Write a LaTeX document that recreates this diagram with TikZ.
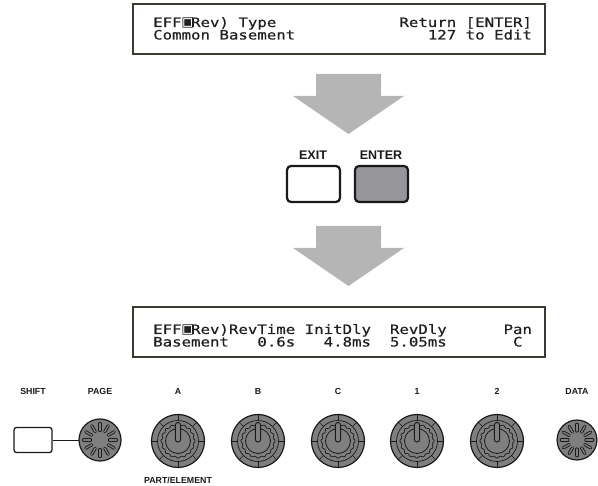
\documentclass[tikz,border=0pt]{standalone}
\usepackage{fontspec}
\setmainfont{Liberation Sans}
\newfontfamily\lcdfont[FakeStretch=1.21,FakeBold=0.6]{DejaVu Sans Mono}
\newfontfamily\lcdsymfont{DejaVu Sans}
\definecolor{ink}{HTML}{1A1A1A}
\definecolor{knobgray}{HTML}{7F7F7F}
\definecolor{arrowgray}{HTML}{B5B5B5}
\definecolor{entergray}{HTML}{95959A}
\definecolor{lcdframe}{HTML}{3A3A30}
\definecolor{lcdink}{HTML}{202020}
\tikzset{
  lcdbox/.style={draw=lcdframe, line width=1.4pt, minimum width=412pt, minimum height=50pt, inner sep=0},
  lcdtxt/.style={anchor=base west, inner sep=0, text=lcdink, font=\lcdfont\fontsize{13}{13}\selectfont},
  lcdsym/.style={anchor=base west, inner sep=0, text=lcdink, font=\lcdsymfont\fontsize{13.5}{13.5}\selectfont},
  btnlabel/.style={inner sep=0, text=ink, font=\bfseries\fontsize{12.5}{12.5}\selectfont},
  klabel/.style={inner sep=0, text=ink, font=\bfseries\fontsize{8.8}{8.8}\selectfont},
  btnbox/.style={draw=ink, line width=2.2pt, rounded corners=4pt, minimum width=53pt, minimum height=36pt, inner sep=0},
  knobspot/.style={circle, inner sep=0, minimum size=#1},
  bigarrow/.style={fill=arrowgray},
  bigknob/.pic={
    \fill[knobgray] (0,0) circle (26.5);
    \draw[ink, line width=0.7pt] (0,0) circle (20.5);
    \foreach \a in {0,45,...,315} \draw[ink, line width=0.7pt] (\a:20.5) -- (\a:26.5);
    \draw[ink, line width=0.7pt] plot[domain=0:360, samples=161, smooth] (\x:{16.3+0.8*cos(16*\x)});
    \draw[ink, line width=0.8pt] (0,0) circle (12.5);
    \filldraw[fill=knobgray, draw=ink, line width=0.9pt, rounded corners=2.4pt] (-2.6,1) rectangle (2.6,-18.5);
    \draw[ink, line width=1.2pt] (0,0) circle (26.5);
  },
  encoder/.pic={
    \fill[knobgray] (0,0) circle (21);
    \foreach \a in {0,30,...,330} {
      \draw[ink, line width=3.2pt, line cap=round] (\a:9.5) -- (\a:16.5);
      \draw[knobgray, line width=1.4pt, line cap=round] (\a:9.5) -- (\a:16.5);
    }
    \draw[ink, line width=1.2pt] (0,0) circle (21);
  }
}
\begin{document}
\begin{tikzpicture}[x=1pt,y=-1pt]
\useasboundingbox (0,0) rectangle (598,486);

% ---- top LCD
\node[lcdbox] (lcdA) at (339,29) {};
\node[lcdtxt] (a1) at (153,27) {EFF};
\node[lcdsym] (a2) at ({153+3*9.47-0.3},27) {▣};
\node[lcdtxt] (a3) at ({153+4*9.47},27) {Rev)};
\node[lcdtxt] (a4) at ({153+9*9.47},27) {Type};
\node[lcdtxt] (a5) at ({153+26*9.47},27) {Return};
\node[lcdtxt] (a6) at ({153+33*9.47},27) {[ENTER]};
\node[lcdtxt] (a7) at (153,39.5) {Common};
\node[lcdtxt] (a8) at ({153+7*9.47},39.5) {Basement};
\node[lcdtxt] (a9) at ({153+29*9.47},39.5) {127};
\node[lcdtxt] (a10) at ({153+33*9.47},39.5) {to};
\node[lcdtxt] (a11) at ({153+36*9.47},39.5) {Edit};

% ---- arrow 1
\fill[bigarrow] (316,74) -- (381,74) -- (381,96) -- (404,96) -- (348.5,134) -- (293,96) -- (316,96) -- cycle;

% ---- EXIT / ENTER
\node[btnlabel] (exitlab) at (313,155) {EXIT};
\node[btnlabel] (enterlab) at (381,155) {ENTER};
\node[btnbox, fill=white] (exit) at (313.5,184) {};
\node[btnbox, fill=entergray] (enter) at (381.5,184) {};

% ---- arrow 2
\fill[bigarrow] (316,226) -- (381,226) -- (381,248) -- (404,248) -- (348.5,286) -- (293,248) -- (316,248) -- cycle;

% ---- lower LCD
\node[lcdbox] (lcdB) at (339,332) {};
\node[lcdtxt] (b1) at (153,334) {EFF};
\node[lcdsym] (b2) at ({153+3*9.47-0.3},334) {▣};
\node[lcdtxt] (b3) at ({153+4*9.47},334) {Rev)RevTime};
\node[lcdtxt] (b4) at ({153+16*9.47},334) {InitDly};
\node[lcdtxt] (b5) at ({153+25*9.47},334) {RevDly};
\node[lcdtxt] (b6) at ({153+37*9.47},334) {Pan};
\node[lcdtxt] (b7) at (153,346.5) {Basement};
\node[lcdtxt] (b8) at ({153+11*9.47},346.5) {0.6s};
\node[lcdtxt] (b9) at ({153+18*9.47},346.5) {4.8ms};
\node[lcdtxt] (b10) at ({153+25*9.47},346.5) {5.05ms};
\node[lcdtxt] (b11) at ({153+38*9.47},346.5) {C};

% ---- panel labels
\node[klabel] (lshift) at (33,391) {SHIFT};
\node[klabel] (lpage) at (100,391) {PAGE};
\node[klabel] (lA) at (178,391) {A};
\node[klabel] (lB) at (258,391) {B};
\node[klabel] (lC) at (338,391) {C};
\node[klabel] (l1) at (417,391) {1};
\node[klabel] (l2) at (497,391) {2};
\node[klabel] (ldata) at (577,391) {DATA};
\node[klabel] (lpart) at (178,480) {PART/ELEMENT};

% ---- controls
\node[draw=ink, line width=1.3pt, rounded corners=2.5pt, minimum width=38pt, minimum height=25pt, inner sep=0] (shift) at (33,440) {};
\node[knobspot=42pt] (kpage) at (100,440) {};
\pic at (kpage.center) {encoder};
\draw[ink, line width=0.9pt] (shift.east) -- (kpage.west);
\node[knobspot=53pt] (kA) at (178,441) {};
\pic at (kA.center) {bigknob};
\node[knobspot=53pt] (kB) at (258,441) {};
\pic at (kB.center) {bigknob};
\node[knobspot=53pt] (kC) at (338,441) {};
\pic at (kC.center) {bigknob};
\node[knobspot=53pt] (k1) at (417,441) {};
\pic at (k1.center) {bigknob};
\node[knobspot=53pt] (k2) at (497,441) {};
\pic at (k2.center) {bigknob};
\node[knobspot=40pt] (kdata) at (577,440) {};
\pic[scale=0.95] at (kdata.center) {encoder};
\end{tikzpicture}
\end{document}
